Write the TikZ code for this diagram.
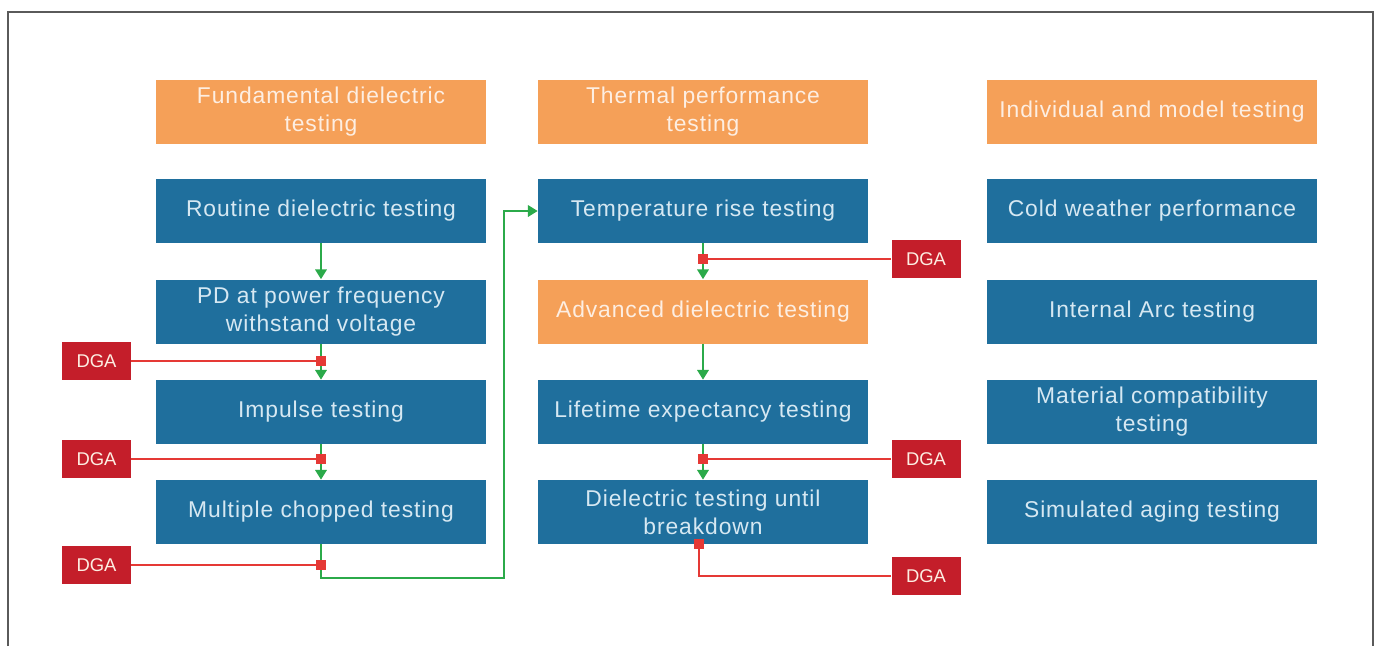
\documentclass[tikz,border=0pt]{standalone}
\usepackage{fontspec}
\setmainfont{Liberation Sans}
\newfontfamily\boxfont[LetterSpace=4]{Liberation Sans}
\usetikzlibrary{arrows.meta}
\definecolor{testblue}{RGB}{31,111,157}
\definecolor{testtext}{RGB}{214,232,242}
\definecolor{grouporange}{RGB}{245,160,88}
\definecolor{grouptext}{RGB}{253,238,226}
\definecolor{dgared}{RGB}{196,30,42}
\definecolor{tapred}{RGB}{229,57,53}
\definecolor{flowgreen}{RGB}{43,170,74}
\definecolor{framegray}{RGB}{90,90,90}
\tikzset{
  test box/.style={fill=testblue, text=testtext, minimum width=6.6cm, minimum height=1.28cm,
    align=center, inner sep=2pt, font=\boxfont\fontsize{13}{16}\selectfont},
  group box/.style={test box, fill=grouporange, text=grouptext},
  dga box/.style={fill=dgared, text=grouptext, minimum width=1.38cm, minimum height=0.76cm,
    inner sep=0pt, font=\fontsize{10.5}{12}\selectfont},
  flow/.style={draw=flowgreen, line width=1.1pt, -{Triangle[width=6.5pt,length=5.5pt]}},
  tap/.style={draw=tapred, line width=1pt},
  tap point/.style={rectangle, fill=tapred, inner sep=0pt, minimum size=0.2cm},
}

\begin{document}
\begin{tikzpicture}
  \useasboundingbox (0,0) rectangle (27.56,-12.92);
  \draw[framegray, line width=0.8pt] (0.16,-12.92) |- (27.46,-0.24) -- (27.46,-12.92);

  \node[group box] (fund)     at (6.42,-2.23)  {Fundamental dielectric\\testing};
  \node[test box]  (routine)  at (6.42,-4.22)  {Routine dielectric testing};
  \node[test box]  (pd)       at (6.42,-6.23)  {PD at power frequency\\withstand voltage};
  \node[test box]  (impulse)  at (6.42,-8.24)  {Impulse testing};
  \node[test box]  (chopped)  at (6.42,-10.24) {Multiple chopped testing};

  \node[group box] (thermal)  at (14.06,-2.23)  {Thermal performance\\testing};
  \node[test box]  (temprise) at (14.06,-4.22)  {Temperature rise testing};
  \node[group box] (advanced) at (14.06,-6.23)  {Advanced dielectric testing};
  \node[test box]  (lifetime) at (14.06,-8.24)  {Lifetime expectancy testing};
  \node[test box]  (breakdown) at (14.06,-10.24) {Dielectric testing until\\breakdown};

  \node[group box] (indiv)    at (23.04,-2.23)  {Individual and model testing};
  \foreach \name/\y/\txt in {cold/-4.22/Cold weather performance,
                             arc/-6.23/Internal Arc testing,
                             material/-8.24/{Material compatibility\\testing},
                             aging/-10.24/Simulated aging testing}
    {\node[test box] (\name) at (23.04,\y) {\txt};}

  \node[dga box] (dga1) at (1.93,-7.22)   {DGA};
  \node[dga box] (dga2) at (1.93,-9.18)   {DGA};
  \node[dga box] (dga3) at (1.93,-11.3)   {DGA};
  \node[dga box] (dga4) at (18.52,-5.18)  {DGA};
  \node[dga box] (dga5) at (18.52,-9.18)  {DGA};
  \node[dga box] (dga6) at (18.52,-11.52) {DGA};
  \coordinate (turn) at (10.08,-11.56);

  \draw[flow] (routine) -- (pd);
  \draw[flow] (pd) -- (impulse);
  \draw[flow] (impulse) -- (chopped);
  \draw[flow] (chopped.south) |- (turn) |- (temprise.west);
  \draw[flow] (temprise) -- (advanced);
  \draw[flow] (advanced) -- (lifetime);
  \draw[flow] (lifetime) -- (breakdown);

  \draw[tap] (dga1) -- (dga1 -| pd) node[tap point] {};
  \draw[tap] (dga2) -- (dga2 -| impulse) node[tap point] {};
  \draw[tap] (dga3) -- (dga3 -| chopped) node[tap point] {};
  \draw[tap] (dga4) -- (dga4 -| temprise) node[tap point] {};
  \draw[tap] (dga5) -- (dga5 -| lifetime) node[tap point] {};
  \draw[tap] (dga6.west) -| ([xshift=-0.08cm]breakdown.south) node[tap point] {};
\end{tikzpicture}
\end{document}
